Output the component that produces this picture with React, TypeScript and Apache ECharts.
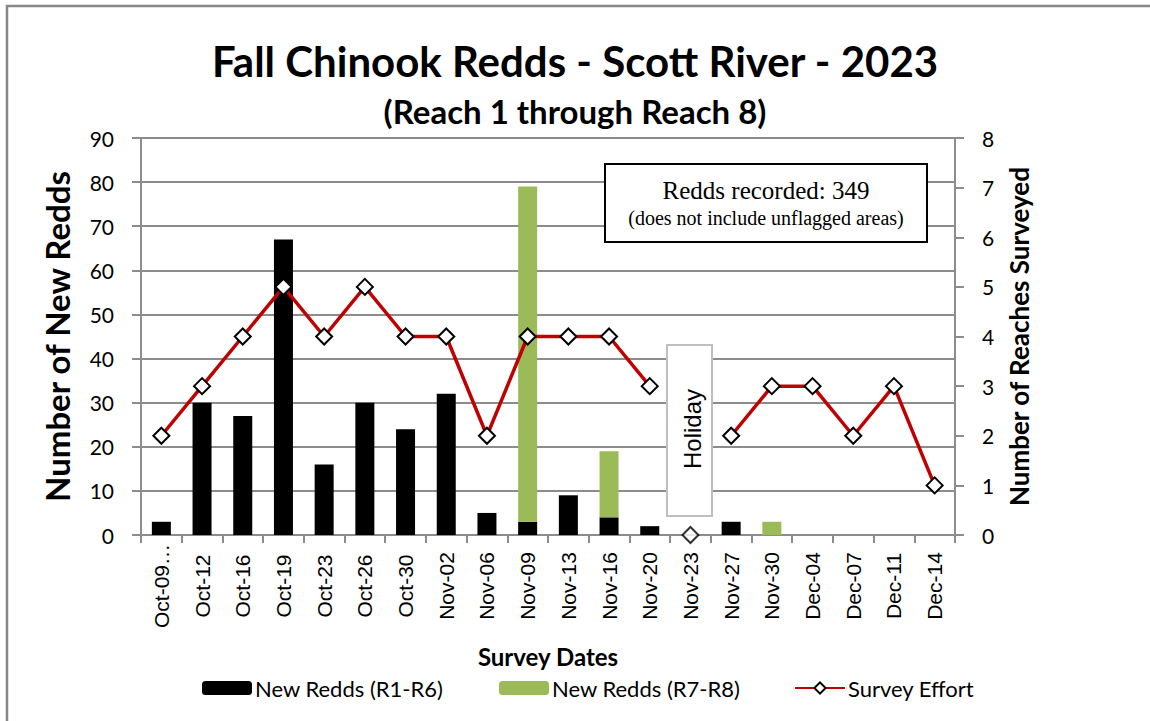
import React, { useEffect, useRef } from "react";
import * as echarts from "echarts";

const dates = ["Oct-09", "Oct-12", "Oct-16", "Oct-19", "Oct-23", "Oct-26", "Oct-30", "Nov-02", "Nov-06", "Nov-09", "Nov-13", "Nov-16", "Nov-20", "Nov-23", "Nov-27", "Nov-30", "Dec-04", "Dec-07", "Dec-11", "Dec-14"];
const reddsR1R6 = [3, 30, 27, 67, 16, 30, 24, 32, 5, 3, 9, 4, 2, 0, 3, 0, 0, 0, 0, 0];
const reddsR7R8 = [0, 0, 0, 0, 0, 0, 0, 0, 0, 76, 0, 15, 0, 0, 0, 3, 0, 0, 0, 0];
const surveyEffort = [2, 3, 4, 5, 4, 5, 4, 4, 2, 4, 4, 4, 3, 0, 2, 3, 3, 2, 3, 1];
const holidayDate = "Nov-23";
const leftTicks = { min: 0, max: 90, interval: 10 };
const rightTicks = { min: 0, max: 8, interval: 1 };

const CAL = "Lato, 'Open Sans', sans-serif";

export default function App() {
  const ref = useRef<HTMLDivElement>(null);
  useEffect(() => {
    if (!ref.current) return;
    const chart = echarts.init(ref.current, undefined, { renderer: "svg" });
    const lineData = surveyEffort.map((v, i) => (dates[i] === holidayDate ? "-" : v));
    const holidayPt = surveyEffort.map((v, i) => (dates[i] === holidayDate ? v : "-"));
    const gray = "#8c8c8c";
    const diamond = {
      symbol: "diamond",
      symbolSize: 16,
      itemStyle: { color: "#ffffff", borderColor: "#000000", borderWidth: 2 },
    };
    const legendText = { fontFamily: CAL, fontSize: 22, color: "#000", padding: [0, 0, 0, -2] };
    chart.setOption({
      animation: false,
      backgroundColor: "#ffffff",
      title: [
        {
          text: "Fall Chinook Redds - Scott River - 2023",
          left: "center",
          top: 35,
          textStyle: { fontFamily: CAL, fontWeight: "bold", fontSize: 42, color: "#000" },
        },
        {
          text: "(Reach 1 through Reach 8)",
          left: "center",
          top: 89,
          textStyle: { fontFamily: CAL, fontWeight: "bold", fontSize: 33, color: "#000" },
        },
      ],
      grid: { left: 141, right: 195, top: 138, bottom: 186, containLabel: false },
      legend: [
        { data: ["New Redds (R1-R6)"], left: 197, top: 672, itemWidth: 50, itemHeight: 14, textStyle: legendText },
        { data: ["New Redds (R7-R8)"], left: 494, top: 672, itemWidth: 50, itemHeight: 14, textStyle: legendText },
        { data: ["Survey Effort"], left: 789, top: 672, itemWidth: 50, itemHeight: 14, textStyle: legendText },
      ],
      xAxis: {
        type: "category",
        data: dates,
        name: "Survey Dates",
        nameLocation: "middle",
        nameGap: 109,
        nameTextStyle: { fontFamily: CAL, fontWeight: "bold", fontSize: 24, color: "#000" },
        axisLine: { lineStyle: { color: gray, width: 2 } },
        axisTick: { show: true, length: 8, lineStyle: { color: gray, width: 2 } },
        axisLabel: {
          interval: 0,
          rotate: 90,
          align: "center",
          verticalAlign: "middle",
          margin: 51,
          fontFamily: "'Liberation Sans', Arial, sans-serif",
          fontSize: 21,
          color: "#000",
          formatter: (v: string, i: number) => (i === 0 ? v + "…" : v),
        },
      },
      yAxis: [
        {
          type: "value",
          min: leftTicks.min,
          max: leftTicks.max,
          interval: leftTicks.interval,
          name: "Number of New Redds",
          nameLocation: "middle",
          nameGap: 68,
          nameTextStyle: { fontFamily: CAL, fontWeight: "bold", fontSize: 33, color: "#000" },
          axisLine: { show: true, lineStyle: { color: gray, width: 2 } },
          axisTick: { show: true, length: 9, lineStyle: { color: gray, width: 2 } },
          axisLabel: { margin: 27, fontFamily: CAL, fontSize: 21, color: "#000" },
          splitLine: { show: true, lineStyle: { color: gray, width: 2 } },
        },
        {
          type: "value",
          min: rightTicks.min,
          max: rightTicks.max,
          interval: rightTicks.interval,
          name: "Number of Reaches Surveyed",
          nameLocation: "middle",
          nameGap: 51,
          nameTextStyle: { fontFamily: CAL, fontWeight: "bold", fontSize: 26, color: "#000" },
          axisLine: { show: true, lineStyle: { color: gray, width: 2 } },
          axisTick: { show: true, length: 9, lineStyle: { color: gray, width: 2 } },
          axisLabel: { margin: 27, fontFamily: CAL, fontSize: 21, color: "#000" },
          splitLine: { show: false },
        },
      ],
      series: [
        {
          name: "New Redds (R1-R6)",
          type: "bar",
          stack: "redds",
          data: reddsR1R6,
          barWidth: 19,
          itemStyle: { color: "#000000" },
          z: 2,
        },
        {
          name: "New Redds (R7-R8)",
          type: "bar",
          stack: "redds",
          data: reddsR7R8,
          barWidth: 19,
          itemStyle: { color: "#9BBB59" },
          z: 2,
        },
        {
          name: "Survey Effort",
          type: "line",
          yAxisIndex: 1,
          data: lineData,
          connectNulls: false,
          lineStyle: { color: "#C00000", width: 3.5 },
          ...diamond,
          z: 5,
        },
        {
          name: "Holiday Effort",
          type: "scatter",
          yAxisIndex: 1,
          data: holidayPt,
          clip: false,
          ...diamond,
          z: 5,
        },
      ],
      graphic: [
        {
          type: "rect",
          shape: { x: 7, y: 6, width: 1200, height: 800 },
          style: { fill: "none", stroke: "#888888", lineWidth: 2.5 },
          silent: true,
        },
        {
          type: "rect",
          shape: { x: 605, y: 164, width: 322, height: 78 },
          style: { fill: "#ffffff", stroke: "#000000", lineWidth: 2 },
          z: 10,
        },
        {
          type: "text",
          x: 766,
          y: 190,
          style: {
            text: "Redds recorded: 349",
            fontFamily: "'Liberation Serif', 'Times New Roman', serif",
            fontSize: 25,
            fill: "#000",
            align: "center",
            verticalAlign: "middle",
          },
          z: 11,
        },
        {
          type: "text",
          x: 766,
          y: 218,
          style: {
            text: "(does not include unflagged areas)",
            fontFamily: "'Liberation Serif', 'Times New Roman', serif",
            fontSize: 20,
            fill: "#000",
            align: "center",
            verticalAlign: "middle",
          },
          z: 11,
        },
        {
          type: "rect",
          shape: { x: 667, y: 345, width: 45, height: 171 },
          style: { fill: "#ffffff", stroke: "#bfbfbf", lineWidth: 2 },
          z: 10,
        },
        {
          type: "text",
          x: 692,
          y: 429,
          rotation: Math.PI / 2,
          style: {
            text: "Holiday",
            fontFamily: "'Liberation Sans', Arial, sans-serif",
            fontSize: 24,
            fill: "#000",
            align: "center",
            verticalAlign: "middle",
          },
          z: 11,
        },
      ],
    });
    return () => chart.dispose();
  }, []);
  return (
    <div
      ref={ref}
      style={{ position: "fixed", left: 0, top: 0, width: 1150, height: 721, background: "#fff" }}
    />
  );
}
